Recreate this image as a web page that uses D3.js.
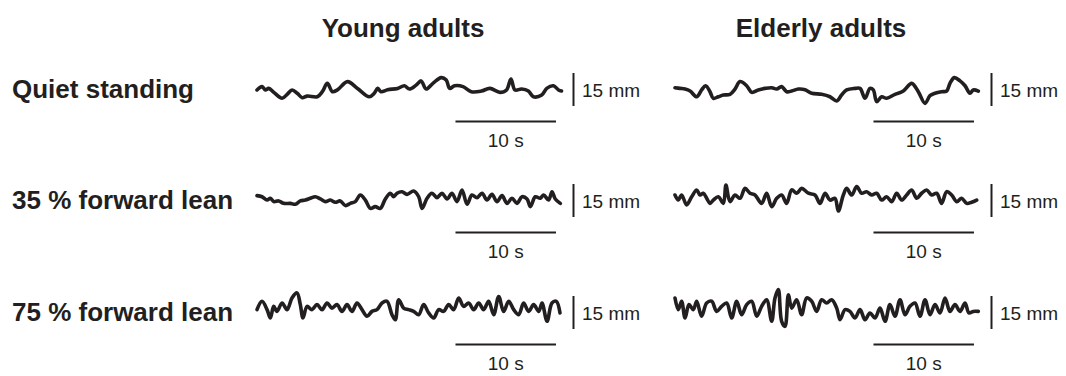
<!DOCTYPE html>
<html>
<head>
<meta charset="utf-8">
<script src="https://cdn.jsdelivr.net/npm/d3@7"></script>
<style>
  html, body { margin: 0; padding: 0; background: #fff; }
  svg { display: block; font-family: "Liberation Sans", Arial, Helvetica, sans-serif; }
</style>
</head>
<body>
<svg id="chart" width="1066" height="376"></svg>
<script>
// Subject groups (columns) and standing conditions (rows)
const groups = ["Young adults", "Elderly adults"];
const conditions = ["Quiet standing", "35 % forward lean", "75 % forward lean"];

// Scale-bar labels
const timeBarSeconds = 10;
const ampBarMm = 15;
const timeBarLabel = "10 s";
const ampBarLabel = "15 mm";

// Centre-of-pressure traces: [time (s), displacement (mm)]
const youngQuiet = [
  [0,-0.2],[0.5,1.3],[0.83,-0.2],[1.17,0.5],[1.67,-1.3],[2.5,-4.0],[3.0,-2.2],[3.5,-0.2],
  [4.0,-1.7],[4.5,-3.7],[5.0,-3.0],[6.0,-3.3],[6.5,-1.0],[7.0,2.8],[7.5,-1.0],[8.0,-0.2],
  [9.0,3.6],[10.0,0.5],[11.17,-3.3],[11.67,-1.7],[12.0,0.5],[12.33,-1.0],[13.0,-0.1],[14.0,0.5],
  [14.67,1.7],[15.17,0.2],[15.83,2.0],[16.33,3.9],[16.83,0.2],[17.5,2.8],[18.33,5.4],[18.83,4.3],
  [19.17,0.5],[19.67,1.7],[20.5,1.3],[21.33,-1.0],[22.33,-0.7],[23.17,0.5],[24.17,-1.3],[24.83,-0.2],
  [25.27,4.8],[25.67,-0.2],[26.33,0.2],[27.0,-0.7],[27.5,-3.3],[28.33,-2.5],[28.83,0.5],[29.5,1.7],
  [30.0,-0.2],[30.3,-0.7]
];

const elderlyQuiet = [
  [0,0.8],[0.5,0.5],[1.0,0.2],[1.5,-0.7],[2.15,-3.3],[2.65,-0.2],[3.05,1.7],[3.48,-1.0],
  [3.81,-4.0],[4.31,-3.3],[4.81,-2.5],[5.47,-2.2],[5.97,0.2],[6.47,3.6],[7.13,1.7],[7.63,-1.3],
  [8.29,-0.2],[8.96,0.5],[9.62,0.8],[10.12,0.2],[10.61,1.3],[11.11,-1.0],[11.61,-0.7],[12.27,0.2],
  [12.94,-0.1],[13.6,-1.7],[14.59,-2.2],[15.42,-3.3],[16.09,-5.2],[16.58,-2.5],[17.08,-0.2],[17.91,0.5],
  [18.41,0.5],[18.91,-4.0],[19.4,0.5],[19.73,-0.2],[20.07,-5.5],[20.56,-3.3],[21.06,-4.0],[21.89,-2.2],
  [22.72,-0.7],[23.55,2.8],[24.21,-1.0],[24.88,-6.3],[25.37,-2.8],[25.87,-1.7],[26.53,-1.0],[27.03,-0.7],
  [27.36,2.8],[27.79,5.4],[28.36,3.9],[28.86,1.7],[29.35,-1.7],[29.68,-0.2],[30.18,-0.7]
];

const youngLean35 = [
  [0,2.2],[0.5,1.7],[1.0,0.2],[1.33,1.0],[1.66,-0.5],[2.16,-0.2],[2.65,-1.3],[3.32,-1.3],
  [3.81,-1.7],[4.31,-0.2],[4.81,0.2],[5.31,1.0],[5.8,1.7],[6.3,0.7],[6.8,-0.5],[7.3,0.2],
  [7.79,-0.8],[8.29,-0.2],[8.79,-2.3],[9.29,-1.3],[9.78,-0.5],[10.28,2.5],[10.78,0.2],[11.28,-3.6],
  [11.77,-2.8],[12.27,-3.6],[12.77,0.7],[13.27,3.3],[13.6,1.7],[13.93,3.3],[14.43,4.0],[14.93,2.8],
  [15.59,4.3],[16.09,1.7],[16.42,-3.6],[16.92,1.0],[17.41,3.3],[17.91,1.3],[18.41,3.3],[18.91,0.7],
  [19.4,3.3],[19.9,-0.5],[20.4,4.8],[20.9,-1.7],[21.39,2.5],[21.89,1.3],[22.39,3.3],[22.89,0.2],
  [23.38,2.8],[23.88,-0.5],[24.38,2.2],[24.88,-1.3],[25.37,1.0],[25.87,-1.3],[26.37,1.7],[26.87,0.7],
  [27.2,-2.8],[27.69,1.7],[28.19,1.0],[28.52,2.5],[29.02,0.2],[29.35,4.0],[29.68,0.7],[30.18,-1.3]
];

const elderlyLean35 = [
  [0,2.5],[0.33,0.2],[0.66,2.5],[1.16,-2.0],[1.66,1.7],[2.16,4.8],[2.49,2.5],[2.82,3.3],
  [3.15,1.0],[3.48,-1.3],[3.81,0.2],[4.31,1.7],[4.81,-1.3],[5.07,7.0],[5.47,-0.5],[5.97,2.5],
  [6.47,1.0],[6.97,5.5],[7.46,3.3],[7.96,2.5],[8.62,-1.3],[9.12,3.3],[9.62,-2.8],[10.12,1.0],
  [10.61,2.5],[11.11,-1.3],[11.61,4.8],[12.11,3.3],[12.6,5.5],[13.27,3.3],[13.93,2.5],[14.43,-1.3],
  [14.93,3.3],[15.42,0.2],[15.92,1.0],[16.25,-4.8],[16.75,2.5],[17.08,5.5],[17.58,2.5],[18.08,6.3],
  [18.57,3.3],[19.07,4.0],[19.57,2.5],[20.07,3.3],[20.56,0.2],[21.06,1.7],[21.56,-0.5],[22.06,3.3],
  [22.55,0.2],[23.05,2.5],[23.55,4.8],[24.05,1.0],[24.54,3.3],[25.04,4.8],[25.54,2.5],[26.04,3.3],
  [26.53,-1.3],[27.03,4.0],[27.53,2.5],[28.03,-0.5],[28.52,1.0],[29.02,-1.3],[29.52,-0.8],[30.02,0.2]
];

const youngLean75 = [
  [0,1.3],[0.5,5.1],[1.0,1.3],[1.33,-2.5],[1.66,2.8],[1.99,0.5],[2.49,4.3],[2.99,1.3],
  [3.48,6.6],[3.98,8.9],[4.31,3.6],[4.58,-2.5],[4.98,2.8],[5.47,1.3],[5.97,3.6],[6.47,1.3],
  [6.97,4.3],[7.46,2.0],[7.96,3.6],[8.46,0.5],[8.96,3.6],[9.45,0.5],[9.95,4.3],[10.45,1.3],
  [10.95,-1.7],[11.44,0.5],[11.94,1.3],[12.44,4.3],[12.94,5.1],[13.43,-1.0],[13.76,-3.3],[14.1,5.8],
  [14.59,2.0],[15.09,1.3],[15.59,0.5],[16.09,-1.0],[16.58,3.6],[17.08,-0.2],[17.58,-2.5],[18.08,1.3],
  [18.57,0.5],[19.07,3.6],[19.57,1.3],[20.07,6.6],[20.56,2.8],[21.06,4.3],[21.56,1.3],[22.06,4.3],
  [22.55,1.3],[23.05,5.1],[23.55,-1.0],[24.05,7.3],[24.54,0.5],[25.04,5.1],[25.54,1.3],[26.04,-1.0],
  [26.53,4.3],[27.03,0.5],[27.53,3.6],[28.03,0.5],[28.36,4.3],[28.86,-4.0],[29.35,4.3],[29.78,5.1],
  [30.15,-0.2]
];

const elderlyLean75 = [
  [0,6.6],[0.33,1.3],[0.66,5.1],[1.0,-2.5],[1.39,3.6],[1.82,1.3],[2.16,5.1],[2.65,-1.7],
  [3.15,4.3],[3.65,5.1],[4.15,0.5],[4.64,2.8],[5.14,4.3],[5.64,-2.5],[6.14,5.1],[6.63,-1.0],
  [7.13,3.6],[7.63,5.1],[8.13,-1.7],[8.62,2.8],[9.12,5.8],[9.62,-4.0],[9.95,6.6],[10.28,10.4],
  [10.61,-4.0],[10.95,-6.3],[11.28,8.1],[11.61,2.0],[12.11,5.8],[12.6,-1.0],[13.1,6.6],[13.6,5.1],
  [14.1,0.5],[14.59,5.8],[15.09,4.3],[15.59,5.8],[16.09,2.0],[16.42,-3.3],[16.92,1.3],[17.41,0.5],
  [17.91,-2.5],[18.41,1.3],[18.91,-3.3],[19.4,-0.2],[19.9,-2.5],[20.4,2.0],[20.9,-4.0],[21.39,3.6],
  [21.89,-1.7],[22.39,5.8],[22.89,-1.0],[23.38,2.8],[23.88,4.3],[24.38,-1.7],[24.88,5.8],[25.37,-1.0],
  [25.87,3.6],[26.37,-0.2],[26.87,6.6],[27.36,0.5],[27.86,3.6],[28.36,0.5],[28.86,4.3],[29.25,-0.2],
  [29.68,0.5],[30.18,0.5]
];

// traces[row][column]
const traces = [
  [youngQuiet, elderlyQuiet],
  [youngLean35, elderlyLean35],
  [youngLean75, elderlyLean75]
];

// ---- layout ----
const ink = "#231f20";
const colStart = [257, 675];      // left edge of the traces in each column
const pxPerSecond = 10.05;
const rowCentre = [89.5, 200.5, 312.5];
const pxPerMm = 2.2;

const svg = d3.select("#chart");

// column headings
svg.selectAll("text.group")
  .data(groups)
  .join("text")
  .attr("class", "group")
  .attr("x", (d, i) => colStart[i] + 146)
  .attr("y", 37)
  .attr("text-anchor", "middle")
  .attr("font-size", 26)
  .attr("font-weight", "bold")
  .attr("fill", ink)
  .text(d => d);

// row labels
svg.selectAll("text.condition")
  .data(conditions)
  .join("text")
  .attr("class", "condition")
  .attr("x", 12)
  .attr("y", (d, i) => rowCentre[i] + 8.5)
  .attr("font-size", 26)
  .attr("font-weight", "bold")
  .attr("fill", ink)
  .text(d => d);

conditions.forEach((cond, r) => {
  groups.forEach((grp, c) => {
    const x = d3.scaleLinear()
      .domain([0, 30])
      .range([colStart[c], colStart[c] + 30 * pxPerSecond]);
    const y = d3.scaleLinear()
      .domain([-15, 15])
      .range([rowCentre[r] + 15 * pxPerMm, rowCentre[r] - 15 * pxPerMm]);

    const line = d3.line()
      .x(d => x(d[0]))
      .y(d => y(d[1]))
      .curve(d3.curveCatmullRom.alpha(0.5));

    const g = svg.append("g");

    g.append("path")
      .datum(traces[r][c])
      .attr("d", line)
      .attr("fill", "none")
      .attr("stroke", ink)
      .attr("stroke-width", 3.6)
      .attr("stroke-linejoin", "round")
      .attr("stroke-linecap", "round");

    // amplitude scale bar (15 mm)
    const barX = x(30) + 15;
    g.append("line")
      .attr("x1", barX).attr("x2", barX)
      .attr("y1", y(ampBarMm / 2)).attr("y2", y(-ampBarMm / 2))
      .attr("stroke", ink)
      .attr("stroke-width", 2);
    g.append("text")
      .attr("x", barX + 8.5)
      .attr("y", y(0) + 7.5)
      .attr("font-size", 19)
      .attr("fill", ink)
      .text(ampBarLabel);

    // time scale bar (10 s)
    const t0 = 19.75, t1 = t0 + timeBarSeconds;
    const barY = y(0) + 32;
    g.append("line")
      .attr("x1", x(t0)).attr("x2", x(t1))
      .attr("y1", barY).attr("y2", barY)
      .attr("stroke", ink)
      .attr("stroke-width", 2);
    g.append("text")
      .attr("x", (x(t0) + x(t1)) / 2)
      .attr("y", barY + 25)
      .attr("text-anchor", "middle")
      .attr("font-size", 19)
      .attr("fill", ink)
      .text(timeBarLabel);
  });
});
</script>
</body>
</html>
